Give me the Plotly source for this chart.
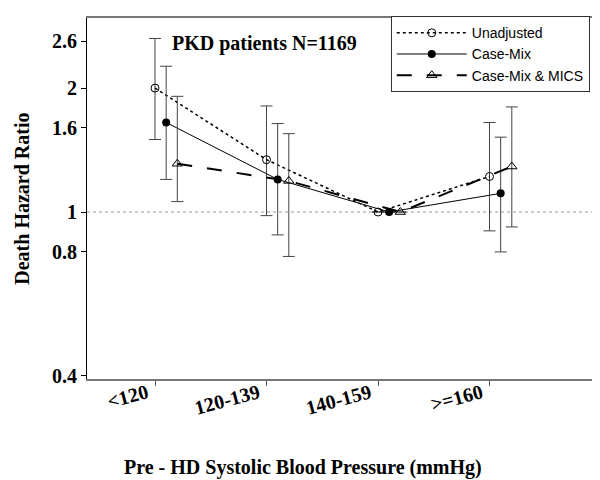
import plotly.graph_objects as go
import numpy as np

categories = ["<120", "120-139", "140-159", ">=160"]
cat_pos = [1, 2, 3, 4]

unadj = [2.00, 1.34, 1.00, 1.22]
unadj_hi = [2.64, 1.81, None, 1.65]
unadj_lo = [1.50, 0.98, None, 0.90]

casemix = [1.65, 1.20, 1.00, 1.11]
casemix_hi = [2.26, 1.64, None, 1.52]
casemix_lo = [1.20, 0.88, None, 0.80]

mics = [1.31, 1.19, 1.00, 1.29]
mics_hi = [1.91, 1.55, None, 1.80]
mics_lo = [1.06, 0.78, None, 0.92]

y_ticks = [0.4, 0.8, 1, 1.6, 2, 2.6]
y_ticktext = ["0.4", "0.8", "1", "1.6", "2", "2.6"]

serif_bold = dict(family="Liberation Serif", size=20, color="black", weight="bold")


def err(vals, hi, lo):
    plus = [(h - v) if h is not None else 0 for v, h in zip(vals, hi)]
    minus = [(v - l) if l is not None else 0 for v, l in zip(vals, lo)]
    return plus, minus


fig = go.Figure()

series = [
    ("Unadjusted", unadj, unadj_hi, unadj_lo, 0.0, "dot", 1.5,
     dict(symbol="circle-open", size=8, color="black", line=dict(width=1, color="black"))),
    ("Case-Mix", casemix, casemix_hi, casemix_lo, 0.1, "solid", 1,
     dict(symbol="circle", size=8, color="black")),
    ("Case-Mix & MICS", mics, mics_hi, mics_lo, 0.2, "longdash", 2,
     dict(symbol="triangle-up-open", size=9, color="black", line=dict(width=1, color="black"))),
]

for name, vals, hi, lo, off, dash, lw, mk in series:
    plus, minus = err(vals, hi, lo)
    xs = [p + off for p in cat_pos]
    fig.add_trace(go.Scatter(
        x=xs, y=vals, name=name, mode="lines+markers",
        line=dict(color="black", dash=dash, width=lw),
        marker=mk,
        error_y=dict(type="data", symmetric=False, array=plus, arrayminus=minus,
                     color="#444444", thickness=1, width=6),
    ))

fig.add_shape(type="line", xref="paper", x0=0, x1=1, yref="y", y0=1, y1=1,
              line=dict(color="#999999", width=1, dash="dot"), layer="below")

fig.update_layout(
    width=600, height=480,
    margin=dict(l=79, r=7, t=10, b=109),
    paper_bgcolor="white", plot_bgcolor="white",
    showlegend=True,
    legend=dict(x=0.591, y=1.005, xanchor="left", yanchor="top",
                bgcolor="white", bordercolor="#333333", borderwidth=1,
                font=dict(family="Liberation Sans", size=14, color="black"),
                itemwidth=70, tracegroupgap=0),
    xaxis=dict(range=[0.39, 5.0], tickvals=cat_pos, ticktext=categories,
               tickangle=-15, tickfont=serif_bold, ticks="outside", ticklen=5,
               ticklabelshift=-8, ticklabelstandoff=-12,
               tickcolor="#555555", showgrid=False, zeroline=False,
               showline=True, linecolor="#777777", linewidth=2, mirror=True),
    yaxis=dict(type="log", range=[np.log10(0.393), np.log10(2.96)],
               tickvals=y_ticks, ticktext=y_ticktext, tickfont=serif_bold,
               ticks="outside", ticklen=5, tickcolor="black", showgrid=False,
               zeroline=False, showline=True, linecolor="black", linewidth=1,
               mirror=True),
    annotations=[
        dict(text="PKD patients N=1169", xref="paper", yref="paper",
             x=0.162, y=0.929, xanchor="left", yanchor="middle", showarrow=False,
             font=serif_bold),
        dict(text="Death Hazard Ratio", xref="paper", yref="paper",
             x=-0.128, y=0.5, textangle=-90, xanchor="center", yanchor="middle",
             showarrow=False, font=serif_bold),
        dict(text="Pre - HD Systolic Blood Pressure (mmHg)", xref="paper", yref="paper",
             x=0.42, y=-0.245, xanchor="center", yanchor="middle", showarrow=False,
             font=serif_bold),
    ],
)

fig.write_html("out.html")
